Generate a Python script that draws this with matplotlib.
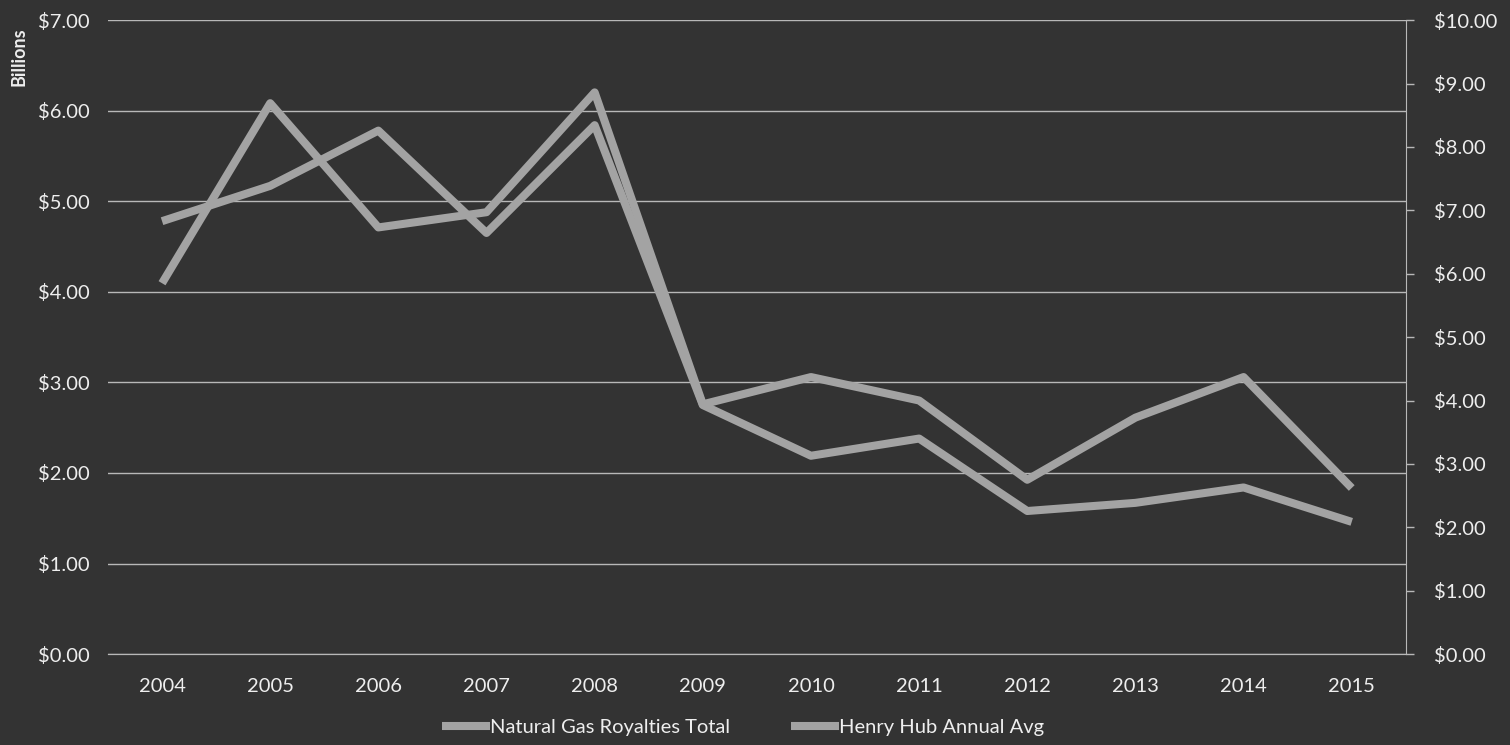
import matplotlib.pyplot as plt
import matplotlib.ticker as mticker

# ------------------------------
# Data
# ------------------------------
years = ["2004", "2005", "2006", "2007", "2008", "2009",
         "2010", "2011", "2012", "2013", "2014", "2015"]
royalties_bn = [4.78, 5.17, 5.78, 4.65, 5.84, 2.75, 2.19, 2.38, 1.58, 1.67, 1.84, 1.46]
henry_hub = [5.85, 8.69, 6.73, 6.97, 8.86, 3.94, 4.37, 4.00, 2.75, 3.73, 4.37, 2.62]

bg = "#333333"
line_col = "#a3a3a3"
grid_col = "#b8b8b8"
text_col = "#eeeeee"

plt.rcParams['font.family'] = ['Lato', 'DejaVu Sans']

fig = plt.figure(figsize=(15.1, 7.45), dpi=100, facecolor=bg)
ax = fig.add_axes([0.0715, 0.122, 0.8595, 0.851], facecolor=bg)
ax2 = ax.twinx()

x = range(len(years))
l1, = ax.plot(x, royalties_bn, color=line_col, lw=5.8, solid_capstyle='butt',
              label="Natural Gas Royalties Total", zorder=3)
l2, = ax2.plot(x, henry_hub, color=line_col, lw=5.8, solid_capstyle='butt',
               label="Henry Hub Annual Avg", zorder=3)

ax.set_xlim(-0.5, len(years) - 0.5)
ax.set_ylim(0, 7)
ax2.set_ylim(0, 10)
ax.set_xticks(list(x))
ax.set_xticklabels(years)

ax.yaxis.set_major_locator(mticker.MultipleLocator(1))
ax2.yaxis.set_major_locator(mticker.MultipleLocator(1))
ax.yaxis.set_major_formatter(mticker.FuncFormatter(lambda v, p: f"${v:.2f}"))
ax2.yaxis.set_major_formatter(mticker.FuncFormatter(lambda v, p: f"${v:.2f}"))

ax.grid(axis='y', color=grid_col, lw=1.0)
ax.set_axisbelow(True)

for a in (ax, ax2):
    for s in ("top", "left"):
        a.spines[s].set_visible(False)
    a.spines["bottom"].set_color(grid_col)
    a.spines["right"].set_visible(False)
ax2.spines["right"].set_visible(True)
ax2.spines["right"].set_color(grid_col)

ax.tick_params(axis='y', length=0, pad=13, labelsize=14.5, labelcolor=text_col)
ax.tick_params(axis='x', length=0, pad=17, labelsize=14.5, labelcolor=text_col)
ax2.tick_params(axis='y', length=6, width=1, color=grid_col, pad=14,
                labelsize=14.5, labelcolor=text_col)

fig.text(0.007, 0.963, "Billions", rotation=90, ha='left', va='top',
         fontsize=13, fontweight='bold', color=text_col)

leg = fig.legend(handles=[l1, l2], loc='lower center', bbox_to_anchor=(0.492, -0.012),
                 ncol=2, frameon=False, fontsize=14.5, labelcolor=text_col,
                 handlelength=2.4, handletextpad=0.0, columnspacing=3.0)

fig.savefig("out.png", dpi=100, facecolor=bg)
